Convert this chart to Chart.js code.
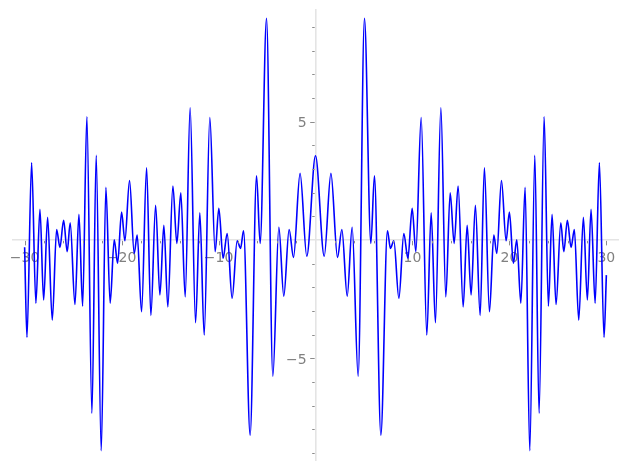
<!DOCTYPE html>
<html>
<head>
<meta charset="utf-8">
<script src="https://cdn.jsdelivr.net/npm/chart.js@4/dist/chart.umd.min.js"></script>
<style>
  html, body { margin: 0; padding: 0; background: #fff; }
  #wrap { width: 627px; height: 470px; }
</style>
</head>
<body>
<div id="wrap"><canvas id="chart" width="627" height="470"></canvas></div>
<script>
// curve turning points (x, y)
const xValues = [
  -30.00, -29.76, -29.28, -28.84, -28.42, -28.04, -27.63, -27.15, -26.70, -26.36,
  -25.98, -25.61, -25.30, -24.81, -24.40, -24.02, -23.58, -23.06, -22.62, -22.10,
  -21.62, -21.18, -20.76, -20.41, -20.00, -19.66, -19.18, -18.70, -18.39, -17.94,
  -17.42, -16.98, -16.49, -16.05, -15.64, -15.23, -14.71, -14.30, -13.89, -13.44,
  -12.93, -12.37, -11.93, -11.48, -10.90, -10.35, -9.97, -9.53, -9.11, -8.60,
  -8.08, -7.73, -7.42, -6.74, -6.08, -5.71, -5.05, -4.40, -3.78, -3.27,
  -2.72, -2.27, -1.59, -0.90, 0.00, 0.90, 1.59, 2.27, 2.72, 3.27,
  3.78, 4.40, 5.05, 5.71, 6.08, 6.74, 7.42, 7.73, 8.08, 8.60,
  9.11, 9.53, 9.97, 10.35, 10.90, 11.48, 11.93, 12.37, 12.93, 13.44,
  13.89, 14.30, 14.71, 15.23, 15.64, 16.05, 16.49, 16.98, 17.42, 17.94,
  18.39, 18.70, 19.18, 19.66, 20.00, 20.41, 20.76, 21.18, 21.62, 22.10,
  22.62, 23.06, 23.58, 24.02, 24.40, 24.81, 25.30, 25.61, 25.98, 26.36,
  26.70, 27.15, 27.63, 28.04, 28.42, 28.84, 29.28, 29.76, 30.00
];
const yValues = [
  -0.30, -4.11, 3.27, -2.67, 1.30, -2.53, 0.96, -3.38, 0.45, -0.31,
  0.84, -0.49, 0.73, -2.72, 1.09, -2.79, 5.21, -7.32, 3.58, -8.90,
  2.23, -2.67, 0.01, -0.98, 1.18, -0.03, 2.52, -0.56, 0.21, -3.03,
  3.05, -3.18, 1.47, -2.32, 0.62, -2.82, 2.28, -0.14, 2.00, -2.40,
  5.59, -3.49, 1.15, -4.01, 5.18, -0.49, 1.34, -0.77, 0.28, -2.46,
  -0.03, -0.35, 0.39, -8.24, 2.72, -0.14, 9.37, -5.75, 0.54, -2.37,
  0.45, -0.73, 2.82, -0.68, 3.56, -0.68, 2.82, -0.73, 0.45, -2.37,
  0.54, -5.75, 9.37, -0.14, 2.72, -8.24, 0.39, -0.35, -0.03, -2.46,
  0.28, -0.77, 1.34, -0.49, 5.18, -4.01, 1.15, -3.49, 5.59, -2.40,
  2.00, -0.14, 2.28, -2.82, 0.62, -2.32, 1.47, -3.18, 3.05, -3.03,
  0.21, -0.56, 2.52, -0.03, 1.18, -0.98, 0.01, -2.67, 2.23, -8.90,
  3.58, -7.32, 5.21, -2.79, 1.09, -2.72, 0.73, -0.49, 0.84, -0.31,
  0.45, -3.38, 0.96, -2.53, 1.30, -2.67, 3.27, -4.11, -1.48
];

const xMajorTicks = [-30, -20, -10, 10, 20, 30];
const xMinorTicks = [-28, -26, -24, -22, -18, -16, -14, -12, -8, -6, -4, -2,
                     2, 4, 6, 8, 12, 14, 16, 18, 22, 24, 26, 28];
const yMajorTicks = [-5, 5];
const yMinorTicks = [-9, -8, -7, -6, -4, -3, -2, -1, 1, 2, 3, 4, 6, 7, 8, 9];

const points = xValues.map((x, i) => ({ x: x, y: yValues[i] }));

function fmt(v) {
  return v < 0 ? "\u2212" + Math.abs(v) : String(v);
}

// axes sit inside the plot, so their labels should not shrink it
function noScalePadding(s) {
  s.paddingTop = 0;
  s.paddingBottom = 0;
  s.paddingLeft = 0;
  s.paddingRight = 0;
}

// small tick marks, longer on the labelled ones
const tickMarks = {
  id: "tickMarks",
  afterDraw(chart) {
    const c = chart.ctx;
    const xs = chart.scales.x, ys = chart.scales.y;
    const x0 = xs.getPixelForValue(0);
    const y0 = ys.getPixelForValue(0);
    c.save();
    c.strokeStyle = "#8c8c8c";
    c.lineWidth = 1;
    c.beginPath();
    xMajorTicks.concat(xMinorTicks).forEach(v => {
      const len = xMajorTicks.includes(v) ? 4.5 : 2.5;
      const px = Math.round(xs.getPixelForValue(v)) + 0.5;
      c.moveTo(px, y0 + 0.8);
      c.lineTo(px, y0 + 0.8 + len);
    });
    yMajorTicks.concat(yMinorTicks).forEach(v => {
      const len = yMajorTicks.includes(v) ? 4.5 : 2.5;
      const py = Math.round(ys.getPixelForValue(v)) + 0.5;
      c.moveTo(x0 - 0.8, py);
      c.lineTo(x0 - 0.8 - len, py);
    });
    c.stroke();
    c.restore();
  }
};

const labelFont = { family: "DejaVu Sans", size: 14 };

new Chart(document.getElementById("chart"), {
  type: "line",
  data: {
    datasets: [{
      data: points,
      borderColor: "#0000ff",
      borderWidth: 1.6,
      pointRadius: 0,
      fill: false,
      cubicInterpolationMode: "monotone"
    }]
  },
  plugins: [tickMarks],
  options: {
    responsive: false,
    animation: false,
    layout: { padding: { left: 13, right: 9, top: 10, bottom: 10 } },
    plugins: { legend: { display: false }, tooltip: { enabled: false } },
    scales: {
      x: {
        type: "linear",
        min: -31.2,
        max: 31.2,
        position: { y: 0 },
        grid: { display: false, drawTicks: false },
        border: { display: true, color: "#e4e4e4", width: 1.6 },
        afterBuildTicks: s => { s.ticks = xMajorTicks.map(v => ({ value: v })); },
        afterFit: noScalePadding,
        ticks: {
          padding: 10,
          color: "#808080",
          font: labelFont,
          autoSkip: false,
          maxRotation: 0,
          callback: v => fmt(v)
        }
      },
      y: {
        type: "linear",
        min: -9.29,
        max: 9.72,
        position: { x: 0 },
        grid: { display: false, drawTicks: false },
        border: { display: true, color: "#e4e4e4", width: 1.6 },
        afterBuildTicks: s => { s.ticks = yMajorTicks.map(v => ({ value: v })); },
        afterFit: noScalePadding,
        ticks: {
          padding: 11,
          labelOffset: 2,
          color: "#808080",
          font: labelFont,
          autoSkip: false,
          // the label sits right on the axis here, trailing spaces push it left
          callback: v => fmt(v) + "  "
        }
      }
    }
  }
});
</script>
</body>
</html>
